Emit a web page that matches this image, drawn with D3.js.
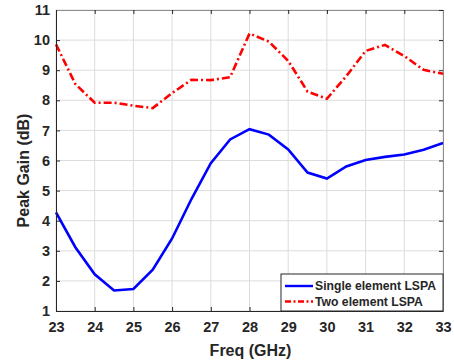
<!DOCTYPE html>
<html>
<head>
<meta charset="utf-8">
<script src="https://cdn.jsdelivr.net/npm/d3@7"></script>
<style>
  html, body { margin: 0; padding: 0; background: #fff; }
  svg { display: block; }
  text { font-family: "Liberation Sans", Arial, sans-serif; font-weight: bold; fill: #262626; }
</style>
</head>
<body>
<svg id="chart" width="454" height="362"></svg>
<script>
// Frequency samples (GHz)
const freq = [23, 23.5, 24, 24.5, 25, 25.5, 26, 26.5, 27, 27.5, 28, 28.5, 29, 29.5, 30, 30.5, 31, 31.5, 32, 32.5, 33];
// Peak gain (dB), single element LSPA
const singleGain = [4.28, 3.12, 2.22, 1.68, 1.73, 2.37, 3.41, 4.72, 5.91, 6.70, 7.04, 6.86, 6.37, 5.60, 5.40, 5.80, 6.02, 6.12, 6.20, 6.36, 6.58];
// Peak gain (dB), two element LSPA
const twoGain = [9.86, 8.54, 7.92, 7.92, 7.82, 7.74, 8.24, 8.68, 8.67, 8.77, 10.22, 9.95, 9.31, 8.29, 8.05, 8.80, 9.64, 9.84, 9.47, 9.01, 8.88];
const xTicks = [23, 24, 25, 26, 27, 28, 29, 30, 31, 32, 33];
const yTicks = [1, 2, 3, 4, 5, 6, 7, 8, 9, 10, 11];
const seriesNames = ["Single element LSPA", "Two element LSPA"];

const FONT = "'Liberation Sans', Arial, sans-serif";
const svg = d3.select("#chart");
const m = { left: 56, right: 11, top: 10, bottom: 51 };
const W = 454, H = 362;
const x = d3.scaleLinear().domain([23, 33]).range([m.left, W - m.right]);
const y = d3.scaleLinear().domain([1, 11]).range([H - m.bottom, m.top]);

// grid
const grid = svg.append("g");
grid.selectAll(".gx").data(xTicks).enter().append("line")
  .attr("x1", d => x(d)).attr("x2", d => x(d))
  .attr("y1", y(1)).attr("y2", y(11))
  .attr("stroke", "#dcdcdc").attr("stroke-width", 1);
grid.selectAll(".gy").data(yTicks).enter().append("line")
  .attr("x1", x(23)).attr("x2", x(33))
  .attr("y1", d => y(d)).attr("y2", d => y(d))
  .attr("stroke", "#dcdcdc").attr("stroke-width", 1);

// series
const line = d3.line().x((d, i) => x(freq[i])).y(d => y(d));
svg.append("path").datum(twoGain).attr("d", line)
  .attr("fill", "none").attr("stroke", "#ff0000").attr("stroke-width", 2.6)
  .attr("stroke-dasharray", "8,3,2,3");
svg.append("path").datum(singleGain).attr("d", line)
  .attr("fill", "none").attr("stroke", "#0000ff").attr("stroke-width", 2.6);

// axes (ticks inside, box)
const axisColor = "#262626";
const xAxis = svg.append("g").attr("transform", `translate(0,${y(1)})`)
  .call(d3.axisBottom(x).tickValues(xTicks).tickSizeInner(-4).tickSizeOuter(0).tickPadding(11).tickFormat(d3.format("d")));
const yAxis = svg.append("g").attr("transform", `translate(${x(23)},0)`)
  .call(d3.axisLeft(y).tickValues(yTicks).tickSizeInner(-4).tickSizeOuter(0).tickPadding(6).tickFormat(d3.format("d")));
const xTop = svg.append("g").attr("transform", `translate(0,${y(11)})`)
  .call(d3.axisTop(x).tickValues(xTicks).tickSizeInner(-4).tickSizeOuter(0).tickFormat(""));
const yRight = svg.append("g").attr("transform", `translate(${x(33)},0)`)
  .call(d3.axisRight(y).tickValues(yTicks).tickSizeInner(-4).tickSizeOuter(0).tickFormat(""));
[xAxis, yAxis, xTop, yRight].forEach(g => {
  g.selectAll("path, line").attr("stroke", axisColor).attr("stroke-width", 1);
  g.selectAll("text").attr("font-size", 14.5).attr("font-family", FONT)
    .attr("font-weight", "bold").attr("fill", axisColor);
});
xTop.select("path").attr("stroke", "#8c8c8c");
yRight.select("path").attr("stroke", "#8c8c8c");

// axis titles
svg.append("text").attr("x", x(28) + 1).attr("y", 355.5).attr("text-anchor", "middle")
  .attr("font-size", 16).text("Freq (GHz)");
svg.append("text").attr("transform", `translate(28.5,${y(6) + 10}) rotate(-90)`)
  .attr("text-anchor", "middle").attr("font-size", 16).text("Peak Gain (dB)");

// legend
const lg = svg.append("g");
const lx0 = 281, ly0 = 274, lw = x(33) - 281, lh = y(1) - 274;
lg.append("rect").attr("x", lx0).attr("y", ly0).attr("width", lw).attr("height", lh)
  .attr("fill", "#fff").attr("stroke", axisColor).attr("stroke-width", 1);
const styles = [
  { color: "#0000ff", dash: null },
  { color: "#ff0000", dash: "6,2.5,2,2.5" }
];
seriesNames.forEach((name, i) => {
  const cy = ly0 + 12 + i * 15.5;
  lg.append("line").attr("x1", lx0 + 4).attr("x2", lx0 + 32).attr("y1", cy).attr("y2", cy)
    .attr("stroke", styles[i].color).attr("stroke-width", 2.4)
    .attr("stroke-dasharray", styles[i].dash);
  lg.append("text").attr("x", lx0 + 34).attr("y", cy).attr("dy", "0.35em")
    .attr("font-size", 12.2).text(name);
});
</script>
</body>
</html>
